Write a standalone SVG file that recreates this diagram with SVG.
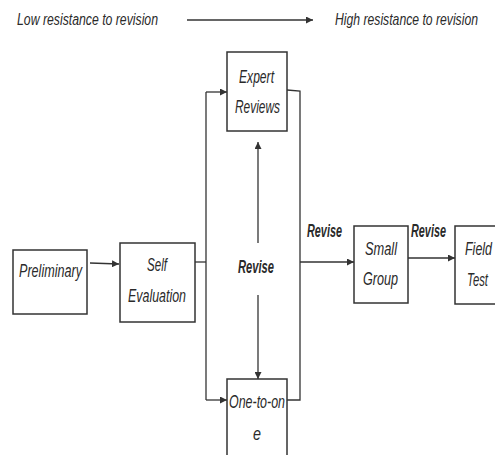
<svg xmlns="http://www.w3.org/2000/svg" width="495" height="455" viewBox="0 0 495 455">
<style>
.box{fill:#fff;stroke:#333;stroke-width:1.5}
.ln{fill:none;stroke:#333;stroke-width:1.3}
.t{font-family:"Liberation Sans",Arial,sans-serif;font-style:italic;font-size:19px;fill:#2a2a2a;text-anchor:start}
.top{font-size:16px}
.b{font-weight:bold}
</style>
<defs>
<marker id="ah" viewBox="0 0 10 10" refX="10" refY="5" markerWidth="7" markerHeight="7" markerUnits="userSpaceOnUse" orient="auto">
<path d="M0,0 L10,5 L0,10 z" fill="#333"/>
</marker>
</defs>
<rect width="495" height="455" fill="#fff"/>
<g id="legend">
<text class="t top" x="17" y="25" textLength="141" lengthAdjust="spacingAndGlyphs">Low resistance to revision</text>
<text class="t top" transform="translate(335,25) scale(0.72,1)" x="0" y="0" textLength="198.6" lengthAdjust="spacingAndGlyphs">High resistance to revision</text>
</g>
<g id="connectors">
<line class="ln" x1="187" y1="20" x2="313" y2="20" marker-end="url(#ah)"/>
<line class="ln" x1="90" y1="263" x2="119" y2="264" marker-end="url(#ah)"/>
<line class="ln" x1="195" y1="262" x2="206" y2="262"/>
<line class="ln" x1="206" y1="92" x2="206" y2="400"/>
<line class="ln" x1="206" y1="92" x2="227" y2="92" marker-end="url(#ah)"/>
<line class="ln" x1="206" y1="400" x2="227" y2="400" marker-end="url(#ah)"/>
<polyline class="ln" points="287,90 300,91 300,400 287,400"/>
<line class="ln" x1="300" y1="262" x2="354" y2="262" marker-end="url(#ah)"/>
<line class="ln" x1="258" y1="243" x2="258" y2="142" marker-end="url(#ah)"/>
<line class="ln" x1="258" y1="295" x2="258" y2="379" marker-end="url(#ah)"/>
<line class="ln" x1="408" y1="258" x2="455" y2="258" marker-end="url(#ah)"/>
<text class="t b" x="307" y="237" font-size="17" textLength="35" lengthAdjust="spacingAndGlyphs">Revise</text>
<text class="t b" x="411" y="237" font-size="17" textLength="35" lengthAdjust="spacingAndGlyphs">Revise</text>
<text class="t b" x="238" y="273" font-size="17" textLength="36" lengthAdjust="spacingAndGlyphs">Revise</text>
</g>
<g id="preliminary">
<rect class="box" x="13" y="250" width="74" height="64"/>
<text class="t" x="19" y="277" textLength="63" lengthAdjust="spacingAndGlyphs">Preliminary</text>
</g>
<g id="self-evaluation">
<rect class="box" x="120" y="243" width="75" height="79"/>
<text class="t" x="147" y="271" textLength="20" lengthAdjust="spacingAndGlyphs">Self</text>
<text class="t" x="128" y="302" textLength="58" lengthAdjust="spacingAndGlyphs">Evaluation</text>
</g>
<g id="expert-reviews">
<rect class="box" x="227" y="52" width="60" height="79"/>
<text class="t" x="239" y="83" textLength="35" lengthAdjust="spacingAndGlyphs">Expert</text>
<text class="t" x="235" y="113" textLength="45" lengthAdjust="spacingAndGlyphs">Reviews</text>
</g>
<g id="one-to-one">
<rect class="box" x="227" y="379" width="60" height="90"/>
<text class="t" x="229" y="408" textLength="56" lengthAdjust="spacingAndGlyphs">One-to-on</text>
<text class="t" x="253" y="440" textLength="8" lengthAdjust="spacingAndGlyphs">e</text>
</g>
<g id="small-group">
<rect class="box" x="354" y="226" width="54" height="77"/>
<text class="t" x="365" y="255" textLength="32" lengthAdjust="spacingAndGlyphs">Small</text>
<text class="t" x="363" y="285" textLength="35" lengthAdjust="spacingAndGlyphs">Group</text>
</g>
<g id="field-test">
<rect class="box" x="455" y="226" width="50" height="78"/>
<text class="t" transform="translate(465,255) scale(0.6,1)" x="0" y="0" textLength="45" lengthAdjust="spacingAndGlyphs">Field</text>
<text class="t" transform="translate(467,286) scale(0.6,1)" x="0" y="0" textLength="35" lengthAdjust="spacingAndGlyphs">Test</text>
</g>
</svg>
